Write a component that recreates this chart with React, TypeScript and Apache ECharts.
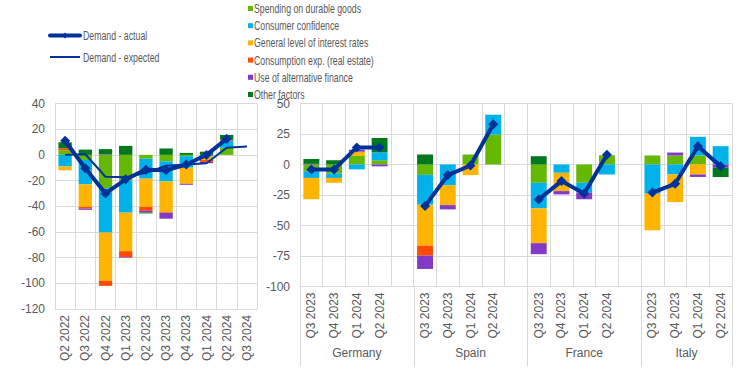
import React, { useEffect, useRef } from 'react';
import * as echarts from 'echarts';

// ---------- Left panel (euro area) ----------
const leftQuarters = ['Q2 2022', 'Q3 2022', 'Q4 2022', 'Q1 2023', 'Q2 2023', 'Q3 2023', 'Q4 2023', 'Q1 2024', 'Q2 2024', 'Q3 2024'];
const leftDurable = [3.5, -4, -26, -20, -3, -5, -1, 0, 5.5, null];
const leftConfidence = [-9, -19, -34.5, -25, -15.5, -15.7, -9, -1, 5.5, null];
const leftInterest = [-3, -17.5, -37.5, -30, -22, -24, -12.5, -3, 0, null];
const leftConsumption = [1.6, -1.3, -4, -4.6, -3.1, -0.5, 0, -1.5, 0.7, null];
const leftAltFinance = [0, -1, 0.5, -0.5, -1.3, -4.5, -0.8, -1, 0, null];
const leftOther = [4.7, 4.1, 4, 7, -0.7, 5, 1.5, 2.5, 3.8, null];
const leftActual = [11, -10.5, -30, -19, -11.5, -12, -7.5, 0, 12.5, null];
const leftExpected = [0, 0.5, -17, -17.5, -14, -8.5, -7.5, -6.5, 5.5, 6.5];

// ---------- Right panel (countries) ----------
const rightQuarters = ['Q3 2023', 'Q4 2023', 'Q1 2024', 'Q2 2024'];
const countries = ['Germany', 'Spain', 'France', 'Italy'];
// values in order: Germany x4, Spain x4, France x4, Italy x4
const rightDurable = [-5.5, -7.5, 7, 3.5, -8.5, 0, 8.2, 24.5, -15, 0, -15, 7.6, 7.4, 7.4, 7.4, 0];
const rightConfidence = [-5.5, -3.5, -4, 6.5, -24.5, -17, 0, 16.3, -21, -6.8, -8, -8.2, -24, -8.2, 15.3, 15];
const rightInterest = [-17.5, -4, 3.5, 0, -33.5, -16.3, -8.7, 0, -28.5, -15, 0, 0, -30, -22.6, -8.2, 0];
const rightConsumption = [0, 0, 0, 0, -8.2, 0, 0, 0, 0, 0, 0, 0, 0, 0, 0, 0];
const rightAltFinance = [0.5, 0, 1.6, -1.5, -10.9, -3.5, 0, 0, -9, -2.7, -5.5, 0, 0, 2.4, -2, -2.7];
const rightOther = [4, 3.5, 0, 11.7, 8.2, 0, 0, 0, 6.8, 0, 0, 0, 0, 0, 0, -7.6];
const rightActual = [-4, -4, 14, 14, -34, -8.7, -0.8, 33, -28.6, -13.6, -23.7, 8, -23, -15.8, 15, -1.4];

const factorNames = [
  'Spending on durable goods',
  'Consumer confidence',
  'General level of interest rates',
  'Consumption exp. (real estate)',
  'Use of alternative finance',
  'Other factors',
];
const lineNames = ['Demand - actual', 'Demand - expected'];
const factorColors = ['#65B800', '#00B1EA', '#FFB400', '#FF4B00', '#8139C6', '#00781E'];
const lineColor = '#003299';
const gridColor = '#D9D9D9';
const textColor = '#595959';
const axisFont = "'Liberation Sans', Arial, sans-serif";

// expand 16 country values to slots with a blank slot after each country except last
function expandRight<T>(vals: (T | null)[], blank: T | null): (T | null)[] {
  const out: (T | null)[] = [];
  countries.forEach((_, ci) => {
    for (let q = 0; q < rightQuarters.length; q++) out.push(vals[ci * rightQuarters.length + q]);
    if (ci < countries.length - 1) out.push(blank);
  });
  return out;
}

export default function App() {
  const ref = useRef<HTMLDivElement>(null);
  useEffect(() => {
    if (!ref.current) return;
    const chart = echarts.init(ref.current, undefined, { renderer: 'svg' });

    const rightCats = expandRight<string>(countries.flatMap(() => rightQuarters), '') as string[];
    const nSlots = rightCats.length;

    const spans: { name: string; start: number; end: number }[] = [];
    let pos = 0;
    countries.forEach((c, ci) => {
      const w = rightQuarters.length + (ci < countries.length - 1 ? 1 : 0);
      spans.push({ name: c, start: pos, end: pos + w });
      pos += w;
    });
    const centerLabel: Record<string, string> = {};
    spans.forEach((s) => {
      centerLabel[String((s.start + s.end) / 2)] = s.name;
    });

    const leftFactorData = [leftDurable, leftConfidence, leftInterest, leftConsumption, leftAltFinance, leftOther];
    const rightFactorData = [rightDurable, rightConfidence, rightInterest, rightConsumption, rightAltFinance, rightOther];

    const series: any[] = [];
    factorNames.forEach((name, i) => {
      series.push({
        type: 'bar', name, xAxisIndex: 0, yAxisIndex: 0, stack: 'left', barWidth: '66%',
        data: leftFactorData[i], itemStyle: { color: factorColors[i] },
      });
    });
    factorNames.forEach((name, i) => {
      series.push({
        type: 'bar', name, xAxisIndex: 1, yAxisIndex: 1, stack: 'right', barWidth: '70%',
        data: expandRight<number>(rightFactorData[i], null), itemStyle: { color: factorColors[i] },
      });
    });
    series.push({
      type: 'line', name: lineNames[0], xAxisIndex: 0, yAxisIndex: 0, data: leftActual,
      symbol: 'diamond', symbolSize: 10, lineStyle: { width: 4, color: lineColor },
      itemStyle: { color: lineColor }, z: 5,
    });
    series.push({
      type: 'line', name: lineNames[1], xAxisIndex: 0, yAxisIndex: 0, data: leftExpected,
      symbol: 'none', lineStyle: { width: 2, color: lineColor }, itemStyle: { color: lineColor }, z: 4,
    });
    series.push({
      type: 'line', name: lineNames[0], xAxisIndex: 1, yAxisIndex: 1,
      data: expandRight<number>(rightActual, null), connectNulls: false,
      symbol: 'diamond', symbolSize: 10, lineStyle: { width: 4, color: lineColor },
      itemStyle: { color: lineColor }, z: 5,
    });

    const catAxisBase = {
      type: 'category',
      boundaryGap: true,
      axisLine: { show: true, onZero: false, lineStyle: { color: gridColor } },
      axisTick: { show: false },
      splitLine: { show: true, lineStyle: { color: gridColor } },
    };

    // ---- legends drawn as graphic elements (narrow text) ----
    const legendScaleX = 0.73;
    const legendGraphics: any[] = [];
    // line legend
    lineNames.forEach((name, i) => {
      const y = 35.5 + i * 21.5;
      legendGraphics.push({
        type: 'line', silent: true,
        shape: { x1: 50, y1: y, x2: 80, y2: y },
        style: { stroke: lineColor, lineWidth: i === 0 ? 4 : 2, lineCap: i === 0 ? 'round' : 'butt' },
      });
      if (i === 0) {
        legendGraphics.push({
          type: 'polygon', silent: true,
          shape: { points: [[65, y - 3], [68, y], [65, y + 3], [62, y]] },
          style: { fill: lineColor },
        });
      }
      legendGraphics.push({
        type: 'text', silent: true, x: 83, y, scaleX: legendScaleX,
        style: { text: name, fontSize: 12, fontFamily: axisFont, fill: textColor, verticalAlign: 'middle', align: 'left' },
      });
    });
    // factor legend
    factorNames.forEach((name, i) => {
      const y = 8.5 + i * 17.2;
      legendGraphics.push({
        type: 'rect', silent: true,
        shape: { x: 248, y: y - 2.5, width: 5, height: 5 },
        style: { fill: factorColors[i] },
      });
      legendGraphics.push({
        type: 'text', silent: true, x: 254, y, scaleX: legendScaleX,
        style: { text: name, fontSize: 12, fontFamily: axisFont, fill: textColor, verticalAlign: 'middle', align: 'left' },
      });
    });

    chart.setOption({
      animation: false,
      backgroundColor: '#ffffff',
      textStyle: { fontFamily: axisFont },
      grid: [
        { left: 55, top: 103.5, width: 202, height: 205.5, containLabel: false },
        { left: 300, top: 103.5, width: 432, height: 183, containLabel: false },
      ],
      xAxis: [
        {
          ...catAxisBase, gridIndex: 0, data: leftQuarters,
          axisLabel: { rotate: 90, interval: 0, margin: 6, color: textColor, fontSize: 12, fontFamily: axisFont },
        },
        {
          ...catAxisBase, gridIndex: 1, data: rightCats,
          axisLabel: { rotate: 90, interval: 0, margin: 6, color: textColor, fontSize: 12, fontFamily: axisFont },
        },
        {
          type: 'value', gridIndex: 1, position: 'bottom', min: 0, max: nSlots, interval: 0.5,
          axisLine: { show: false }, axisTick: { show: false }, splitLine: { show: false },
          axisLabel: {
            margin: 60, color: textColor, fontSize: 12, fontFamily: axisFont,
            showMinLabel: true, showMaxLabel: true,
            formatter: (v: number) => centerLabel[String(v)] || '',
          },
        },
      ],
      yAxis: [
        {
          type: 'value', gridIndex: 0, min: -120, max: 40, interval: 20,
          axisLine: { show: true, lineStyle: { color: gridColor } }, axisTick: { show: false },
          axisLabel: { margin: 10, color: textColor, fontSize: 12, fontFamily: axisFont },
          splitLine: { show: true, lineStyle: { color: gridColor } },
        },
        {
          type: 'value', gridIndex: 1, min: -100, max: 50, interval: 25,
          axisLine: { show: true, lineStyle: { color: gridColor } }, axisTick: { show: false },
          axisLabel: { margin: 10, color: textColor, fontSize: 12, fontFamily: axisFont },
          splitLine: { show: true, lineStyle: { color: gridColor } },
        },
      ],
      series,
    });

    // group separators below right panel, positioned via the axis scale
    const yBottom = chart.convertToPixel({ yAxisIndex: 1 }, -100) as number;
    const bounds = [0, ...spans.map((s) => s.end)];
    const sepGraphics = bounds.map((b) => {
      const x = Math.round(chart.convertToPixel({ xAxisIndex: 2 }, b) as number) + 0.5;
      return {
        type: 'line', silent: true,
        shape: { x1: x, y1: yBottom, x2: x, y2: yBottom + 80 },
        style: { stroke: gridColor, lineWidth: 1 },
      };
    });
    chart.setOption({ graphic: [...legendGraphics, ...sepGraphics] });

    return () => chart.dispose();
  }, []);

  return (
    <div
      ref={ref}
      style={{ position: 'fixed', left: 0, top: 0, width: 744, height: 385, background: '#fff' }}
    />
  );
}
